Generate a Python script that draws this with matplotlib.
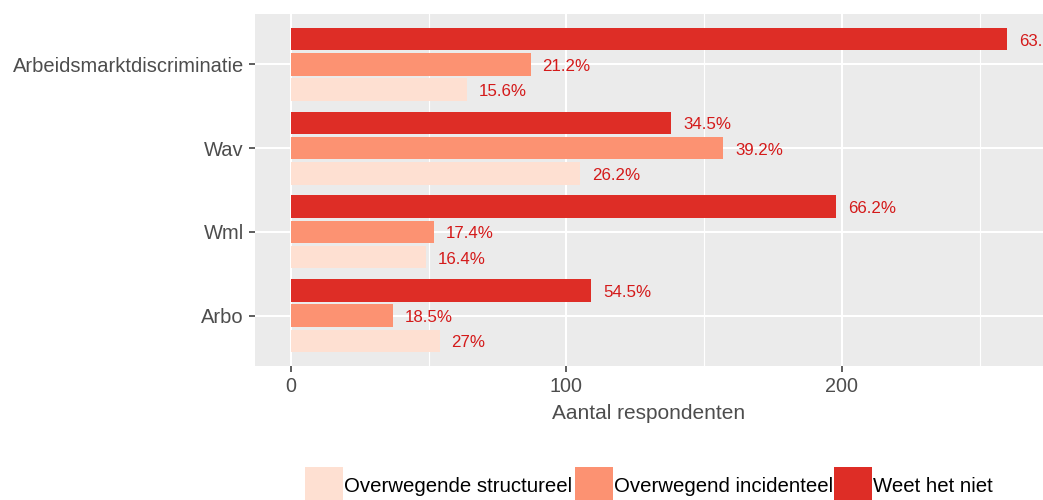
import matplotlib.pyplot as plt
from matplotlib.patches import Rectangle
import numpy as np

plt.rcParams['font.family'] = ['Liberation Sans', 'DejaVu Sans']

categorieen = ['Arbo', 'Wml', 'Wav', 'Arbeidsmarktdiscriminatie']
reeksen = ['Overwegende structureel', 'Overwegend incidenteel', 'Weet het niet']
structureel = [54, 49, 105, 64]
incidenteel = [37, 52, 157, 87]
weet_niet = [109, 198, 138, 260]
pct_structureel = ['27%', '16.4%', '26.2%', '15.6%']
pct_incidenteel = ['18.5%', '17.4%', '39.2%', '21.2%']
pct_weet_niet = ['54.5%', '66.2%', '34.5%', '63.2%']
kleuren = ['#FEE0D2', '#FC9272', '#DE2D26']
xticks = [0, 100, 200]

W, H = 1043, 500
fig = plt.figure(figsize=(W / 100, H / 100), dpi=100)
ax = fig.add_axes([255 / W, (H - 366) / H, (1043 - 255) / W, 352 / H])
ax.set_facecolor('#EBEBEB')

y = np.arange(len(categorieen))
waarden = [structureel, incidenteel, weet_niet]
labels = [pct_structureel, pct_incidenteel, pct_weet_niet]
offsets = [-0.3, 0, 0.3]
for vals, labs, off, kl in zip(waarden, labels, offsets, kleuren):
    ax.barh(y + off, vals, height=0.27, color=kl, zorder=3)
    for yi, v, lab in zip(y, vals, labs):
        ax.annotate(lab, (v, yi + off), xytext=(12, -2), textcoords='offset pixels',
                    va='center', ha='left', fontsize=12.2, color='#D41A1A',
                    annotation_clip=False, clip_on=True, zorder=4)

ax.set_xlim(-13, 273)
ax.set_ylim(-0.6, 3.6)
ax.set_yticks(y)
ax.set_yticklabels(categorieen)
ax.set_xticks(xticks)
ax.set_xticks([50, 150, 250], minor=True)
ax.grid(True, which='major', color='white', linewidth=1.5, zorder=0)
ax.grid(True, which='minor', axis='x', color='white', linewidth=0.8, zorder=0)
ax.set_axisbelow(True)
for s in ax.spines.values():
    s.set_visible(False)
ax.tick_params(axis='both', which='major', length=4, width=1.1, color='#333333',
               labelcolor='#4D4D4D', pad=4)
ax.tick_params(axis='y', which='major', labelsize=14.5)
ax.tick_params(axis='x', which='major', labelsize=14.2)
ax.tick_params(axis='both', which='minor', length=0)
ax.set_xlabel('Aantal respondenten', fontsize=15, color='#4D4D4D', labelpad=6)

# legenda onderaan
keys_x = [305, 575, 834]
for kx, kl, naam in zip(keys_x, kleuren, reeksen):
    fig.add_artist(Rectangle((kx / W, (H - 505) / H), 38 / W, 38 / H,
                             transform=fig.transFigure, facecolor=kl, edgecolor='none'))
    fig.text((kx + 39) / W, (H - 486) / H, naam, fontsize=14.7, color='black',
             va='center', ha='left')

fig.savefig('out.png', dpi=100)
